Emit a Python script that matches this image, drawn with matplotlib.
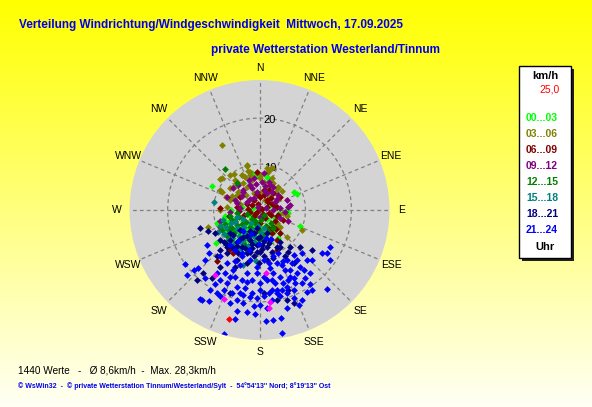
import numpy as np
import matplotlib.pyplot as plt
from matplotlib.patches import Rectangle

plt.rcParams['font.family'] = ['Liberation Sans', 'DejaVu Sans']

# wind vectors, (east, north) components in km/h, per 3-hour block
pts_00_03 = [(-10.4, 5.2), (7.4, 4.0), (8.1, 3.5), (8.8, -3.4), (-9.3, -2.9), (-9.4, -7.2),
             (-1.7, 8.0), (1.6, 7.2), (-2.8, -9.1), (5.9, 0.0), (6.3, -0.7), (4.5, -5.1),
             (4.1, -6.2), (0.1, -5.8), (3.0, -4.7), (2.3, -6.9), (-7.8, -1.8), (-0.6, 7.6),
             (1.9, 7.0), (-7.6, -1.2), (-6.9, -2.6), (-6.2, -4.6), (-5.7, -6.0), (-5.1, -1.8),
             (-4.6, -3.7), (-4.2, -5.1), (-3.5, -2.4), (-3.0, -4.2), (-2.6, -6.6), (-2.0, -1.2),
             (-1.5, -3.3), (-1.0, -5.0), (-0.5, -6.6), (0.0, -2.8), (0.6, -4.0), (1.2, -5.7),
             (1.6, -2.0), (2.2, -3.6), (2.8, -5.0), (3.3, -1.7), (-8.4, -3.0), (-7.4, -4.6),
             (-3.9, -6.1), (-0.7, -1.4), (3.8, -3.2), (-5.3, -4.4), (-2.3, -3.0), (0.3, -5.3),
             (4.3, -0.6), (-1.4, 0.4), (2.0, 0.8), (-3.8, 0.6), (-6.2, 0.0)]
pts_03_06 = [(-8.2, 14.1), (-2.8, 9.6), (-8.6, 6.7), (-5.3, 6.5), (-3.8, 7.6), (-3.1, 7.2),
             (-1.7, 6.5), (-0.6, 8.0), (0.1, 6.9), (2.0, 8.7), (-6.4, 4.7), (-4.6, 4.0),
             (-2.8, 5.1), (-1.3, 3.6), (1.6, 5.1), (3.0, 5.8), (4.1, 5.1), (-4.9, 3.3),
             (-8.2, 4.0), (-6.4, 2.2), (2.3, 2.9), (3.8, 2.2), (5.2, -0.7), (5.9, -1.4),
             (9.2, -4.3), (-11.3, -3.6), (-8.6, -0.1), (-4.2, 1.4), (0.1, 3.6), (1.2, 2.2),
             (-3.5, 5.8), (-2.0, 7.6), (2.7, 6.9), (-7.1, 0.7), (4.5, -3.6), (5.9, -5.8),
             (3.8, -2.9), (-3.9, 7.6), (-2.8, 9.8), (1.6, 9.1), (-2.1, 8.3), (-6.4, 7.6),
             (-8.2, 6.9), (3.7, 4.7), (2.7, 9.1), (-5.7, 5.1), (-8.6, 4.3), (-1.5, 2.3),
             (0.9, 6.0), (-4.9, 6.2), (-2.6, 8.6), (1.8, 8.2), (3.6, 3.9), (-6.0, 3.0),
             (-3.0, 3.2), (4.8, 4.1), (-7.4, 2.8), (0.4, 7.6), (-5.5, 7.9)]
pts_06_09 = [(-0.6, 8.3), (-8.6, 0.4), (-9.3, -11.2), (0.9, 4.3), (1.6, 2.2), (3.0, 3.6),
             (3.8, 0.7), (0.1, 0.4), (-1.3, 2.2), (-2.8, 1.4), (2.0, -0.7), (3.8, -1.4),
             (5.2, -2.2), (0.9, -1.4), (-1.3, -1.4), (3.0, -3.6), (4.5, -5.1), (-4.9, 0.7),
             (-4.2, 2.9), (0.1, 2.9), (4.5, 2.9), (-6.7, -8.7), (-5.7, -9.4), (3.8, -8.7),
             (-8.6, -3.6), (1.6, 0.7), (2.7, 1.4), (-0.6, -0.4), (-2.0, -0.4), (0.1, -2.9),
             (1.6, -3.6), (-0.6, -4.3), (2.7, -5.1), (3.8, -6.5), (-6.7, -1.4), (-1.0, -0.8),
             (0.5, 0.2), (-2.5, 0.2), (1.2, -1.8), (2.5, -1.0), (3.3, -2.5), (-3.4, -1.0),
             (-0.3, 1.4), (1.8, 1.8), (3.4, 0.8), (2.6, 2.6), (-1.7, 1.0), (0.7, -0.8),
             (4.0, -1.0), (-4.5, -0.2), (2.2, -4.5), (3.6, -4.2), (-0.5, 3.4), (1.0, 3.2),
             (2.0, 4.4)]
pts_09_12 = [(-8.6, -2.4), (-5.7, 4.7), (-3.5, 4.0), (-1.7, 4.7), (2.0, 6.2), (2.7, 4.0),
             (4.1, 3.3), (5.9, 2.2), (6.7, 1.1), (6.3, -2.5), (-2.0, 2.5), (-0.6, 4.0),
             (-4.2, 0.4), (4.5, 0.4), (5.6, -0.4), (0.5, 6.2), (0.9, 8.0), (-7.1, 2.9),
             (-6.4, -0.4), (3.0, 5.1), (-2.4, 6.5), (-4.6, 5.4), (1.6, 3.6), (3.4, 1.8),
             (-5.3, 2.2), (6.3, 0.7), (-1.3, 7.0), (-2.1, 5.4), (-3.5, 4.3), (2.3, 5.4),
             (1.2, 4.1), (-0.4, 0.6), (1.5, 0.4), (-2.7, 1.8), (0.2, -1.6), (2.9, -0.1),
             (-1.3, 2.7), (3.9, 2.5), (-3.8, 3.0), (1.1, 5.2), (-0.8, 5.6), (4.4, -1.8),
             (-5.0, 1.6)]
pts_12_15 = [(-7.6, 8.9), (-4.9, 5.8), (-5.3, -2.5), (-6.4, -3.6), (-7.5, -3.0), (-6.8, -4.2),
             (-6.0, -2.1), (-5.5, -5.0), (-5.0, -3.3), (-4.4, -1.5), (-4.0, -4.4), (-3.6, -6.0),
             (-3.0, -2.6), (-2.5, -4.9), (-2.0, -3.8), (-1.6, -1.9), (-1.2, -5.6), (-0.8, -3.1),
             (-0.2, -4.4), (0.4, -2.2), (0.8, -5.2), (1.3, -3.5), (1.9, -4.6), (2.4, -2.8),
             (-7.0, -5.6), (-6.2, -6.5), (-5.2, -7.1), (-3.3, -7.3), (-8.2, -4.4), (-1.8, -6.7),
             (0.2, -6.3), (-4.8, -0.6), (-2.8, -0.9), (3.0, -4.0), (-5.9, -3.9), (-3.9, -3.0),
             (-1.0, -2.4), (0.9, -1.0), (-2.2, -5.8), (-6.5, -1.2)]
pts_15_18 = [(-10.0, 1.7), (-7.1, -6.9), (-4.6, -4.0), (-3.5, -6.5), (-3.5, -12.0), (-0.8, -11.0),
             (-8.0, -2.2), (-7.2, -3.8), (-6.6, -5.0), (-6.0, -6.1), (-5.4, -2.7), (-4.9, -4.2),
             (-4.5, -5.6), (-4.0, -7.0), (-3.4, -3.6), (-3.0, -5.2), (-2.4, -6.3), (-1.9, -2.9),
             (-1.4, -4.4), (-0.9, -5.9), (-0.4, -3.4), (0.3, -4.9), (-7.8, -5.2), (-8.6, -3.4),
             (-5.6, -7.4), (-2.6, -7.8), (-6.3, -2.8), (-3.7, -2.0), (-1.2, -7.0), (1.0, -3.9),
             (-9.0, -4.8), (-7.0, -6.8), (-4.2, -8.3), (-5.0, -1.5)]
pts_18_21 = [(-12.9, -4.0), (-11.3, -4.5), (-8.6, -8.7), (-7.8, -6.9), (-6.0, -8.0), (-4.9, -6.9),
             (-3.8, -8.0), (-2.8, -9.4), (-1.7, -8.3), (-0.6, -7.6), (0.1, -9.1), (1.6, -8.0),
             (2.7, -9.1), (3.8, -8.0), (0.9, -10.1), (-4.9, -10.9), (-7.1, -9.4), (-9.3, -10.1),
             (-1.3, -10.1), (3.0, -10.5), (4.5, -8.0), (6.3, -9.1), (-13.6, -15.2), (-12.2, -13.8),
             (-10.4, -14.9), (-9.6, -5.1), (-6.4, -5.1), (-3.5, -5.8), (0.1, -5.8), (2.3, -6.5),
             (4.5, -6.9), (-6.4, -6.5), (-4.6, -9.4), (-2.0, -6.5), (-8.6, -12.3), (7.4, -11.6),
             (11.4, -8.7), (3.8, -19.6), (6.3, -17.4), (-6.4, -18.1), (1.6, -10.9), (-2.8, -11.6),
             (-0.2, -11.6), (-5.3, -12.3), (-1.3, -5.1), (1.6, -5.1), (-4.2, -4.3), (-8.6, -6.5),
             (-7.1, -8.0), (-5.3, -8.7), (-0.6, -9.1), (-2.0, -9.1), (0.5, -7.6), (5.6, -10.1),
             (6.7, -8.0), (8.8, -8.0), (5.9, -19.6), (0.9, -18.1), (7.4, -20.3), (-5.8, -5.4),
             (-4.3, -6.4), (-2.8, -5.7), (-1.6, -7.4), (-0.3, -6.0), (1.0, -6.8), (-3.2, -8.2),
             (-5.0, -7.9), (-7.3, -7.3), (0.6, -8.4), (2.1, -7.2), (-2.0, -4.5), (-0.6, -4.0)]
pts_21_24 = [(-7.8, -27.0), (4.9, -26.8), (-5.4, -23.8), (1.3, -24.1), (3.0, -23.9), (4.7, -23.6),
             (-4.9, -21.9), (-2.8, -22.3), (-0.9, -22.6), (-1.3, -21.0), (0.1, -20.7), (1.6, -21.4),
             (5.9, -21.4), (8.5, -20.7), (9.2, -19.6), (-12.9, -19.4), (-11.1, -19.7), (-8.6, -18.8),
             (-6.4, -20.3), (-3.5, -20.3), (-2.0, -19.0), (-0.6, -19.2), (2.7, -19.6), (4.5, -18.8),
             (7.4, -19.2), (10.3, -17.8), (11.4, -17.4), (14.6, -17.2), (-15.8, -14.1), (-14.3, -13.0),
             (-11.8, -14.9), (-9.6, -16.1), (-7.8, -17.4), (-6.0, -18.1), (-4.9, -16.7), (-3.1, -17.0),
             (0.1, -17.4), (2.0, -18.1), (3.8, -17.4), (5.9, -16.7), (7.4, -17.4), (9.2, -15.9),
             (11.0, -16.1), (-16.2, -11.7), (-13.3, -12.7), (-11.8, -10.9), (-9.3, -13.8), (-8.6, -15.2),
             (-5.3, -14.5), (-3.8, -15.2), (-1.7, -15.2), (0.1, -15.9), (1.6, -15.2), (3.0, -13.8),
             (4.5, -14.5), (6.3, -15.2), (8.1, -13.8), (9.9, -14.9), (-11.1, -9.3), (-8.6, -10.1),
             (-7.1, -11.6), (-5.7, -13.0), (-4.2, -12.0), (-2.8, -13.8), (-0.6, -13.8), (2.3, -12.7),
             (3.8, -11.6), (5.2, -11.2), (6.7, -13.0), (8.8, -12.3), (7.4, -9.8), (9.2, -9.4),
             (10.3, -10.9), (11.4, -10.9), (13.6, -9.4), (14.6, -9.4), (15.4, -8.1), (15.4, -10.9),
             (-11.4, -7.6), (5.9, -10.9), (0.9, -10.9), (-0.6, -12.3), (-2.0, -10.9), (4.1, -9.4),
             (-7.1, -15.9), (2.7, -15.2), (5.6, -13.0), (7.0, -11.6), (0.9, -14.5), (3.8, -18.1),
             (-1.7, -18.1), (-3.5, -18.5), (-12.5, -19.6), (5.2, -15.9), (6.7, -14.5), (4.9, -17.4),
             (5.9, -18.1), (7.8, -15.9), (3.4, -15.9), (2.7, -17.4), (0.9, -18.8), (-4.9, -19.6),
             (-4.2, -18.1), (-2.8, -15.6), (-6.4, -14.5), (-7.5, -13.8), (-10.7, -17.4), (-9.3, -18.1),
             (-5.3, -11.2), (-3.8, -10.1), (2.0, -11.6), (3.0, -10.1), (4.9, -12.0), (8.1, -10.9),
             (9.6, -13.0), (11.0, -13.8), (7.4, -14.9), (-6.4, -7.6), (-4.7, -6.8), (-3.5, -4.6),
             (-1.8, -5.2), (-0.1, -7.4), (1.5, -6.1), (-5.3, -8.6), (-2.2, -8.8), (2.6, -6.4),
             (-3.9, -9.4)]
pts_gust = [(-9.6, -14.1), (-7.8, -19.4), (1.4, -13.8), (2.3, -20.1), (2.0, -21.4)]
pts_over = [(-6.7, -23.8)]

hour_labels = ['00...03', '03...06', '06...09', '09...12', '12...15', '15...18', '18...21', '21...24']
hour_colors = ['#00ff00', '#808000', '#800000', '#800080', '#008000', '#008080', '#000080', '#0000ff']
hour_points = [pts_00_03, pts_03_06, pts_06_09, pts_09_12, pts_12_15, pts_15_18, pts_18_21, pts_21_24]

speed_max = 28.3
rings = [10, 20]
dir_names = ['N', 'NNE', 'NE', 'ENE', 'E', 'ESE', 'SE', 'SSE',
             'S', 'SSW', 'SW', 'WSW', 'W', 'WNW', 'NW', 'NNW']


def to_polar(pts):
    a = np.array(pts, dtype=float)
    return np.arctan2(a[:, 0], a[:, 1]), np.hypot(a[:, 0], a[:, 1])


fig = plt.figure(figsize=(5.92, 4.07), dpi=100)

# yellow -> pale background
bg = fig.add_axes([0, 0, 1, 1], zorder=-10)
grad = np.ones((256, 1, 3))
grad[:, 0, 2] = np.linspace(0, 0.96, 256)
bg.imshow(grad, aspect='auto', extent=[0, 1, 0, 1])
bg.axis('off')

ax = fig.add_axes([0.2188, 0.1646, 0.4392, 0.6388], projection='polar')
ax.set_theta_zero_location('N')
ax.set_theta_direction(-1)
ax.set_facecolor('#d4d4d4')
ax.set_ylim(0, speed_max)
ax.set_yticks(rings)
ax.set_yticklabels([])
ax.set_xticks(np.radians(np.arange(0, 360, 22.5)))
ax.set_xticklabels([])
ax.grid(True, color='#808080', linestyle='--', dashes=(3, 2.5), linewidth=0.9)
ax.spines['polar'].set_visible(False)
ax.tick_params(length=0)

for i, name in enumerate(dir_names):
    ax.text(np.radians(i * 22.5), 31.0, name, ha='center', va='center',
            fontsize=7.5, clip_on=False)
ax.text(np.radians(14), 9.4, '10', ha='center', va='center', fontsize=8)
ax.text(np.radians(6.5), 19.7, '20', ha='center', va='center', fontsize=8)

msize = 12
for pts, col in zip(hour_points, hour_colors):
    th, r = to_polar(pts)
    ax.scatter(th, r, s=msize, marker='D', c=col, linewidths=0, zorder=3)
th, r = to_polar(pts_gust)
ax.scatter(th, r, s=msize, marker='D', c='#ff00ff', linewidths=0, zorder=4)
th, r = to_polar(pts_over)
ax.scatter(th, r, s=msize, marker='D', c='#ff0000', linewidths=0, zorder=4)

# titles
fig.text(0.032, 0.9386, 'Verteilung Windrichtung/Windgeschwindigkeit  Mittwoch, 17.09.2025',
         color='#0000ee', fontsize=8.5, fontweight='bold', va='center')
fig.text(0.3564, 0.877, 'private Wetterstation Westerland/Tinnum',
         color='#0000ee', fontsize=8.5, fontweight='bold', va='center')

# legend box
fig.patches.append(Rectangle((0.8823, 0.3586), 0.0868, 0.4726, transform=fig.transFigure,
                             facecolor='#202020', edgecolor='none', zorder=1))
fig.patches.append(Rectangle((0.8772, 0.366), 0.0868, 0.4726, transform=fig.transFigure,
                             facecolor='white', edgecolor='black', linewidth=1, zorder=2))
fig.text(0.9206, 0.814, 'km/h', fontsize=8, fontweight='bold', ha='center', va='center')
fig.text(0.946, 0.779, '25,0', fontsize=7.5, color='#ff0000', ha='right', va='center')
leg_y = [117.7, 134.3, 150.3, 166.3, 182.3, 198.3, 214.3, 230.0]
for lab, col, py in zip(hour_labels, hour_colors, leg_y):
    fig.text(0.8885, 1 - py / 407, lab, fontsize=7.5, fontweight='bold', color=col, va='center')
fig.text(0.9206, 1 - 246.7 / 407, 'Uhr', fontsize=8, fontweight='bold', ha='center', va='center')

# footer
fig.text(0.0304, 0.0909, '1440 Werte   -   Ø 8,6km/h  -  Max. 28,3km/h', fontsize=7.2, va='center')
fig.text(0.0304, 0.0516,
         "© WsWin32  -  © private Wetterstation Tinnum/Westerland/Sylt  -  54°54'13'' Nord; 8°19'13'' Ost",
         fontsize=5, fontweight='bold', color='#0000ee', va='center')

fig.savefig('out.png', dpi=100)
